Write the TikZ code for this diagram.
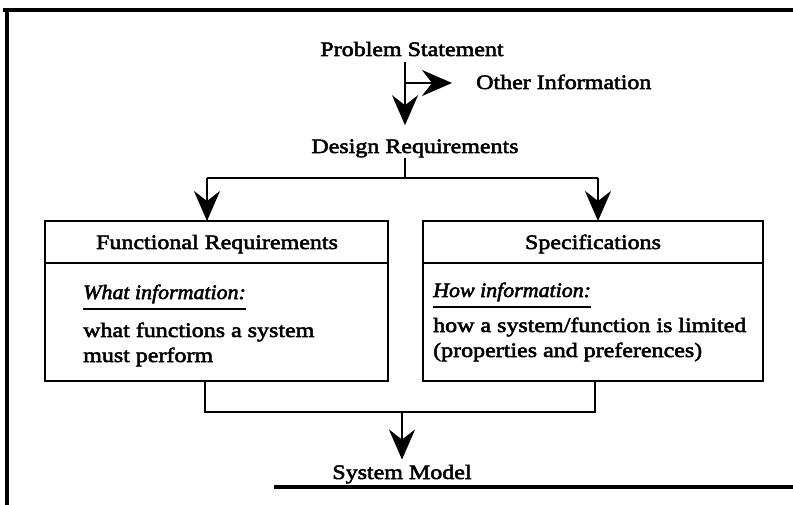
\documentclass[tikz,border=0pt]{standalone}
\usepackage{fontspec}
\setmainfont[FakeStretch=1.17,FakeBold=2.6]{Liberation Serif}
\newfontfamily\infofont[FakeStretch=1.07,FakeBold=2.6]{Liberation Serif}
\usetikzlibrary{arrows.meta,positioning,calc}
\tikzset{
  lbl/.style={inner sep=0pt,font=\fontsize{20.5}{25}\selectfont},
  ln/.style={line width=2.8pt},
  frm/.style={line width=3.4pt},
  arr/.style={ln,-{Stealth[length=30pt,width=26pt,inset=10pt]}},
  boxpart/.style={draw,ln,minimum width=#1,inner sep=0pt,outer sep=0pt},
}
\begin{document}
\begin{tikzpicture}[x=1pt,y=-1pt]
 \useasboundingbox (0,0) rectangle (793,505);
 % frame
 \draw[frm] (3,10) -- (793,10);
 \draw[frm] (7,10) -- (7,505);
 \draw[frm] (274,487) -- (793,487);
 % top labels
 \node[lbl,anchor=base] (prob) at (412,56) {Problem Statement};
 \node[lbl,anchor=base west] (other) at (476,89) {Other Information};
 \node[lbl,anchor=base] (design) at (415,153) {Design Requirements};
 \coordinate (split) at (405,83);
 \draw[ln] ([yshift=-6pt]prob.south -| split) -- (split);
 \draw[arr] (split) -- ([yshift=14pt]design.north -| split);
 \draw[arr,shorten >=24pt] (split) -- (split -| other.west);
 % two boxes
 \node[boxpart=343pt,minimum height=42pt] (funchead) at (216.5,242) {};
 \node[boxpart=343pt,minimum height=118pt,anchor=north] (funcbody) at (funchead.south) {};
 \node[boxpart=340pt,minimum height=42pt] (spechead) at (593,242) {};
 \node[boxpart=340pt,minimum height=118pt,anchor=north] (specbody) at (spechead.south) {};
 \node[lbl,anchor=base] (functitle) at (217,249) {Functional Requirements};
 \node[lbl,anchor=base] (spectitle) at (593,249) {Specifications};
 \node[lbl,anchor=base west] (whatlbl) at (83,299) {\infofont\itshape What information:};
 \node[lbl,anchor=base west,align=left] (whattxt) at (83,362) {what functions a system\\must perform};
 \node[lbl,anchor=base west] (howlbl) at (433,297) {\infofont\itshape How information:};
 \node[lbl,anchor=base west,align=left] (howtxt) at (433,357) {how a system/function is limited\\(properties and preferences)};
 \draw[ln] ([yshift=-10pt]whatlbl.base west) -- ([yshift=-10pt]whatlbl.base east);
 \draw[ln] ([yshift=-10pt]howlbl.base west) -- ([yshift=-10pt]howlbl.base east);
 % fork into the boxes
 \coordinate (fork) at (405,178);
 \coordinate (lfork) at (207,178);
 \coordinate (rfork) at (598,178);
 \draw[ln] (design.south -| fork) -- (fork);
 \draw[ln] (lfork) -- (rfork);
 \draw[arr] (lfork) -- (lfork |- funchead.north);
 \draw[arr] (rfork) -- (rfork |- spechead.north);
 % join below the boxes
 \node[lbl,anchor=base] (model) at (402,479) {System Model};
 \coordinate (ljoin) at (205,412);
 \coordinate (rjoin) at (595,412);
 \coordinate (mjoin) at (402,412);
 \draw[ln] (ljoin |- funcbody.south) -- (ljoin) -- (rjoin) -- (rjoin |- specbody.south);
 \draw[arr,shorten >=5pt] (mjoin) -- (model.north);
\end{tikzpicture}
\end{document}
